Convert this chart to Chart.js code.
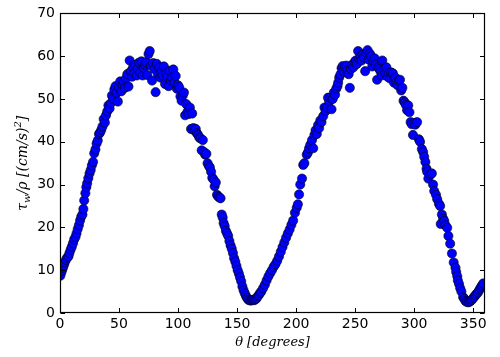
<!DOCTYPE html>
<html>
<head>
<meta charset="utf-8">
<script src="https://cdn.jsdelivr.net/npm/chart.js@4/dist/chart.umd.min.js"></script>
<style>
html,body{margin:0;padding:0;background:#fff;}
#wrap{width:500px;height:357px;position:relative;}
</style>
</head>
<body>
<div id="wrap"><canvas id="c" width="500" height="357"></canvas></div>
<script>
// ---- data ----
const theta = [
0.3,1,1.8,2.5,3.3,4,5,6,7.2,8,9,10,11,12,13.2,14,15,16,17,18,19,19.8,20.5,21.5,22.3,23,24,25,26,27,28,
29,30,31,32,33,34,35,36,37,38,39,40,41,42,43,44,45,46,47,48,49,50,51,52,53,54,55,56,57,58,59,60,
61,62,63,64,65,66,67,68,69,70,71,72,73,74,75,76,77,78,79,80,81,82,83,84,85,86,87,88,89,90,91,92,93,94,
95,96,97,98,99,100,101,102,103,104,105,106,107,108,109,110,111,112,113,114,115,116,117,118,119,120,
121,122,123,124,125,126,127,128,129,130,131,132,133,134,135,136,
137,137.8,138.6,139.5,140.5,141.5,142.5,143.5,144.5,145.5,146.5,147.5,148.5,149.5,150.5,151.5,152.5,
153.5,154.5,155.5,156.5,157.5,158.5,159.5,160.5,161.5,162.5,163.5,164.5,165.5,166.5,167.5,168.5,169.5,
170.5,172,173.5,175,176.5,178,179.5,181,182.5,184,185.5,187,188.5,190,191.5,193,194.5,196,197.5,199,
200.5,201.5,202.5,203.5,205,206,207,
209,210,211,212,213.5,214.5,215.5,216.5,217.5,218.6,219.5,220.5,221.5,223,224,225,226,227,228,229,230,
231,232,233,234,235,235.6,236.5,237.5,238.5,239.5,240.5,241.5,242.5,243.5,244.5,245.5,246.5,247.5,
248.5,249.5,250.5,251.5,252.5,253.5,254.5,255.5,256.5,257.5,258.5,259.5,260.5,261.5,262.5,263.5,264.5,
265.5,266.5,267.5,268.6,269.5,270.5,271.5,272.5,273,274.5,275.6,276.5,277.5,278.5,279.5,280.5,282,283,
284,285,286,287,288,289,290,291,292,293,294,295,296,297,298,299,300,301,302.5,304,305,306.5,307.6,
308.5,309.5,310.5,311,312,313.6,315,316,317,318.5,319.5,321,322,322.5,323.5,324.6,325.5,326.5,328,329,
330.5,332,333.5,335,335.6,336.5,337,338,339,340,341.5,342.5,343.5,344.5,345.8,346.8,347.8,349,350,351,
352,353,354,355,356,357,357.6,358.5
];
const tau = [
8.7,9.4,10.0,10.6,11.2,11.8,12.4,12.9,13.2,14.0,14.8,15.5,16.3,17.2,17.8,18.6,19.6,20.5,21.6,22.5,23.0,24.3,26.3,28.0,29.4,30.3,31.5,32.6,33.4,34.5,35.3,
37.3,38.2,39.6,40.3,41.8,42.2,42.8,43.6,45.3,44.5,46.2,47.1,48.5,47.8,49.0,50.8,50.1,52.2,53.0,51.4,49.4,52.7,54.1,51.8,53.4,54.0,52.6,54.8,55.8,52.9,59.0,56.5,
55.2,57.5,56.0,58.0,55.5,57.0,58.5,56.2,58.8,55.5,57.3,58.0,58.6,55.6,60.5,61.2,57.8,54.3,58.4,57.0,51.6,58.2,55.8,57.4,55.0,56.2,55.5,57.6,53.5,56.0,55.2,53.0,56.6,54.4,
55.0,56.9,53.8,55.4,52.4,53.2,52.7,50.6,49.6,50.8,51.5,46.2,48.8,47.0,46.5,48.0,43.0,46.6,43.2,42.6,43.0,42.0,41.6,41.0,40.8,38.0,
40.4,37.6,37.0,37.2,35.0,34.4,34.0,33.0,31.6,31.2,29.6,30.5,27.6,27.2,27.0,26.8,
23.0,22.3,21.0,20.3,19.2,18.6,18.0,16.8,15.8,15.0,14.0,12.8,12.0,11.0,10.0,9.2,8.3,
7.4,6.2,5.3,4.6,4.0,3.5,3.1,3.0,2.9,3.0,3.1,3.0,3.2,3.4,3.9,4.2,4.7,
5.0,5.8,6.6,7.6,8.5,9.3,10.0,10.8,11.4,12.2,13.2,14.3,15.4,16.5,17.6,18.6,19.5,20.6,21.6,23.4,
24.6,25.4,27.7,30.0,31.4,34.6,35.0,
37.0,37.5,38.5,39.3,40.4,38.5,41.6,42.7,41.8,43.9,43.2,45.0,44.6,46.0,48.0,47.2,48.0,50.3,49.4,50.3,47.6,
50.0,51.5,51.0,52.4,53.0,53.8,55.0,55.7,57.2,57.7,56.4,57.5,57.8,56.6,55.8,52.6,57.0,58.0,
57.4,58.6,59.0,58.2,61.2,59.4,60.0,59.0,60.4,59.7,56.5,60.8,61.4,59.2,60.6,60.0,57.6,
58.8,59.5,58.0,54.5,57.4,57.0,56.4,55.5,59.0,57.0,56.0,57.4,55.2,56.0,54.8,56.2,56.0,53.8,
55.0,54.0,53.2,54.3,54.5,52.0,52.6,49.6,49.2,48.6,47.4,48.5,46.9,44.6,44.1,41.6,44.4,44.0,44.6,40.6,40.0,38.3,37.6,
36.5,35.3,33.7,33.0,31.4,32.3,32.6,30.0,28.5,27.6,26.6,25.5,25.0,20.8,23.0,22.0,21.5,20.5,19.9,18.0,
16.2,13.9,11.8,10.6,9.6,8.6,7.6,6.8,5.8,5.0,3.7,3.3,2.8,2.6,2.5,2.6,2.8,3.1,3.5,3.8,
4.2,4.5,4.8,5.3,5.8,6.2,6.5,6.9
];
const xTickValues = [0,50,100,150,200,250,300,350];
const yTickValues = [0,10,20,30,40,50,60,70];
const xTitle = 'θ [degrees]';
const yTitleParts = ['τ','w','/ρ [(cm/s)','2',']'];

const points = theta.map((t,i)=>({x:t,y:tau[i]}));

const framePlugin = {
  id:'frame',
  afterDatasetsDraw(chart){
    const {ctx, chartArea:a, scales} = chart;
    const L = Math.round(a.left)+0.5, R = Math.round(a.right)-0.5, T = Math.round(a.top)+0.5, B = Math.round(a.bottom)-0.5;
    ctx.save();
    ctx.strokeStyle = '#000';
    ctx.lineWidth = 1;
    ctx.beginPath();
    const tl = 4.5;
    scales.x.ticks.forEach(t=>{
      const px = Math.round(scales.x.getPixelForValue(t.value))+0.5;
      ctx.moveTo(px,B); ctx.lineTo(px,B-tl);
      ctx.moveTo(px,T); ctx.lineTo(px,T+tl);
    });
    scales.y.ticks.forEach(t=>{
      const py = Math.round(scales.y.getPixelForValue(t.value))+0.5;
      ctx.moveTo(L,py); ctx.lineTo(L+tl,py);
      ctx.moveTo(R,py); ctx.lineTo(R-tl,py);
    });
    ctx.stroke();
    ctx.lineWidth = 1.2;
    ctx.strokeRect(L,T,R-L,B-T);
    ctx.restore();
  },
  afterDraw(chart){
    const {ctx, chartArea:a} = chart;
    ctx.save();
    ctx.fillStyle = '#000';
    // x title
    ctx.font = 'italic 13px "DejaVu Serif"';
    ctx.textAlign = 'center';
    ctx.textBaseline = 'middle';
    ctx.fillText(xTitle, (a.left+a.right)/2, 343);
    // y title with subscript and superscript
    const big = 'italic 14px "DejaVu Serif"', small = 'italic 10px "DejaVu Serif"';
    const fonts = [big, small, big, small, big];
    const offs = [0, 3, 0, -6, 0];
    let total = 0;
    const widths = yTitleParts.map((p,i)=>{ctx.font = fonts[i]; const w = ctx.measureText(p).width; total += w; return w;});
    ctx.translate(22, (a.top+a.bottom)/2);
    ctx.rotate(-Math.PI/2);
    ctx.textAlign = 'left';
    ctx.textBaseline = 'alphabetic';
    let x = -total/2;
    yTitleParts.forEach((p,i)=>{
      ctx.font = fonts[i];
      ctx.fillText(p, x, 5 + offs[i]);
      x += widths[i];
    });
    ctx.restore();
  }
};

new Chart(document.getElementById('c'), {
  type:'scatter',
  data:{datasets:[{
    data: points,
    pointRadius: 4.6,
    pointHoverRadius: 4.6,
    pointBackgroundColor:'#0000ff',
    pointBorderColor:'#000000',
    pointBorderWidth:0.6,
    clip: 0
  }]},
  options:{
    responsive:false,
    animation:false,
    events:[],
    layout:{padding:{top:10,right:15,left:0,bottom:0}},
    plugins:{legend:{display:false},tooltip:{enabled:false}},
    scales:{
      x:{
        type:'linear', min:0, max:360,
        afterBuildTicks(s){ s.ticks = xTickValues.map(v=>({value:v})); },
        afterFit(s){ s.height = 44; },
        grid:{display:false, drawTicks:false}, border:{display:false},
        ticks:{color:'#000', padding:3, maxRotation:0, autoSkip:false, font:{family:'"DejaVu Sans"', size:14}}
      },
      y:{
        type:'linear', min:0, max:70,
        afterBuildTicks(s){ s.ticks = yTickValues.map(v=>({value:v})); },
        afterFit(s){ s.width = 60; },
        grid:{display:false, drawTicks:false}, border:{display:false},
        ticks:{color:'#000', padding:5, autoSkip:false, font:{family:'"DejaVu Sans"', size:14}}
      }
    }
  },
  plugins:[framePlugin]
});
</script>
</body>
</html>
